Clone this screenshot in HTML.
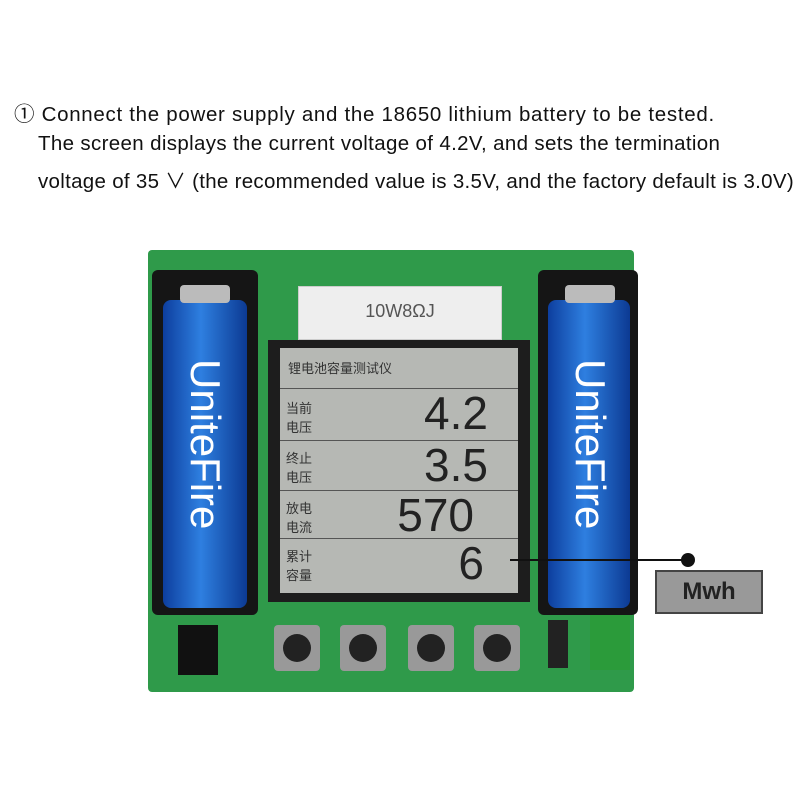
<!DOCTYPE html>
<html><head><style>
body{margin:0;width:800px;height:800px;background:#fff;position:relative;overflow:hidden;font-family:"Liberation Sans","Noto Sans CJK SC",sans-serif}
.t{position:absolute;left:14px;font-size:20.5px;letter-spacing:0.7px;color:#111;white-space:nowrap}
.a{position:absolute}
</style></head><body>
<div class="t" style="top:97px">① Connect the power supply and the 18650 lithium battery to be tested.</div>
<div class="t" style="top:132px;left:38px;letter-spacing:0.35px">The screen displays the current voltage of 4.2V, and sets the termination</div>
<div class="t" style="top:164px;left:38px;letter-spacing:0.3px">voltage of 35 ∨ (the recommended value is 3.5V, and the factory default is 3.0V)</div>

<div class="a" style="left:148px;top:250px;width:486px;height:442px;background:#2f9a4a;border-radius:4px"></div>
<div class="a" style="left:152px;top:270px;width:106px;height:345px;background:#151515;border-radius:6px"></div>
<div class="a" style="left:538px;top:270px;width:100px;height:345px;background:#151515;border-radius:6px"></div>
<div class="a" style="left:163px;top:300px;width:84px;height:308px;background:linear-gradient(90deg,#0d3e9e,#2e7fe0 45%,#0c3a93);border-radius:8px"></div>
<div class="a" style="left:548px;top:300px;width:82px;height:308px;background:linear-gradient(90deg,#0d3e9e,#2e7fe0 45%,#0c3a93);border-radius:8px"></div>
<div class="a" style="left:180px;top:285px;width:50px;height:18px;background:#bbb;border-radius:4px"></div>
<div class="a" style="left:565px;top:285px;width:50px;height:18px;background:#bbb;border-radius:4px"></div>
<div class="a" style="left:120px;top:420px;transform:rotate(90deg);color:#fff;font-size:42px;width:170px;text-align:center">UniteFire</div>
<div class="a" style="left:505px;top:420px;transform:rotate(90deg);color:#fff;font-size:42px;width:170px;text-align:center">UniteFire</div>
<div class="a" style="left:298px;top:286px;width:202px;height:52px;background:#eee;border:1px solid #ccc;font-size:18px;color:#555;text-align:center;line-height:48px">10W8ΩJ</div>
<div class="a" style="left:268px;top:340px;width:262px;height:262px;background:#1d1d1d"></div>
<div class="a" style="left:280px;top:348px;width:238px;height:245px;background:#b6b8b4;font-size:13px;color:#333">
<div style="position:absolute;left:8px;top:10px">锂电池容量测试仪</div>
<div style="position:absolute;left:0;top:40px;width:238px;border-top:1px solid #555"></div>
<div style="position:absolute;left:0;top:92px;width:238px;border-top:1px solid #555"></div>
<div style="position:absolute;left:0;top:142px;width:238px;border-top:1px solid #555"></div>
<div style="position:absolute;left:0;top:190px;width:238px;border-top:1px solid #555"></div>
<div style="position:absolute;left:6px;top:50px">当前<br>电压</div>
<div style="position:absolute;left:6px;top:100px">终止<br>电压</div>
<div style="position:absolute;left:6px;top:150px">放电<br>电流</div>
<div style="position:absolute;left:6px;top:198px">累计<br>容量</div>
<div style="position:absolute;right:30px;top:38px;font-size:46px;color:#222">4.2</div>
<div style="position:absolute;right:30px;top:90px;font-size:46px;color:#222">3.5</div>
<div style="position:absolute;right:44px;top:140px;font-size:46px;color:#222">570</div>
<div style="position:absolute;right:34px;top:188px;font-size:46px;color:#222">6</div>
</div>
<div class="a" style="left:274px;top:625px;width:46px;height:46px;background:#999;border-radius:4px"><div style="margin:9px;width:28px;height:28px;border-radius:50%;background:#222"></div></div>
<div class="a" style="left:340px;top:625px;width:46px;height:46px;background:#999;border-radius:4px"><div style="margin:9px;width:28px;height:28px;border-radius:50%;background:#222"></div></div>
<div class="a" style="left:408px;top:625px;width:46px;height:46px;background:#999;border-radius:4px"><div style="margin:9px;width:28px;height:28px;border-radius:50%;background:#222"></div></div>
<div class="a" style="left:474px;top:625px;width:46px;height:46px;background:#999;border-radius:4px"><div style="margin:9px;width:28px;height:28px;border-radius:50%;background:#222"></div></div>
<div class="a" style="left:178px;top:625px;width:40px;height:50px;background:#111"></div>
<div class="a" style="left:548px;top:620px;width:20px;height:48px;background:#222"></div>
<div class="a" style="left:590px;top:615px;width:40px;height:55px;background:#2b9b3a"></div>
<div class="a" style="left:510px;top:559px;width:178px;height:2px;background:#111"></div>
<div class="a" style="left:681px;top:553px;width:14px;height:14px;border-radius:50%;background:#111"></div>
<div class="a" style="left:655px;top:570px;width:108px;height:44px;background:#999;border:2px solid #444;box-sizing:border-box;font-size:24px;font-weight:bold;color:#222;text-align:center;line-height:40px">Mwh</div>
</body></html>
